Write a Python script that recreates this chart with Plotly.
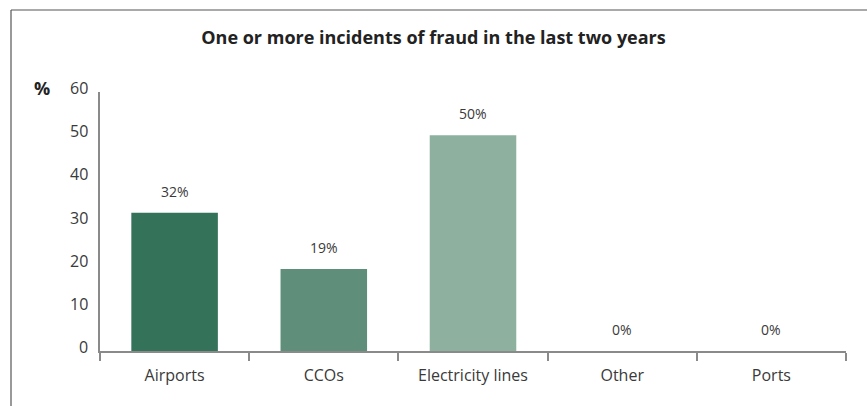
import plotly.graph_objects as go

# Share of respondents reporting one or more incidents of fraud
categories = ["Airports", "CCOs", "Electricity lines", "Other", "Ports"]
values = [32, 19, 50, 0, 0]
bar_colors = ["#34725a", "#5f8f7a", "#8eb09f", "#8eb09f", "#8eb09f"]
y_ticks = [0, 10, 20, 30, 40, 50, 60]

FONT = "Open Sans, Lato, sans-serif"
TEXT = "#3a3a3a"
AXIS = "#8a8a8a"

fig = go.Figure(
    go.Bar(
        x=categories,
        y=values,
        marker=dict(color=bar_colors, line=dict(width=0)),
        width=0.58,
        hoverinfo="skip",
    )
)

# value labels above each bar
for cat, val in zip(categories, values):
    fig.add_annotation(
        x=cat, y=val, text=f"{val}%", showarrow=False,
        yanchor="bottom", yshift=10,
        font=dict(family=FONT, size=14, color=TEXT),
    )

# y tick labels, set slightly above their gridline positions
for t in y_ticks:
    fig.add_annotation(
        x=0, xref="paper", y=t, yref="y", text=str(t), showarrow=False,
        xanchor="right", xshift=-10, yshift=4,
        font=dict(family=FONT, size=16, color=TEXT),
    )

# unit marker
fig.add_annotation(
    x=-0.078, xref="paper", y=60, yref="y", text="<b>%</b>", showarrow=False,
    xanchor="center", yshift=4,
    font=dict(family=FONT, size=18, color="#222222"),
)

# outer frame (left and top edges)
fig.add_shape(type="line", xref="paper", yref="paper",
              x0=-0.1193, x1=-0.1193, y0=-0.3, y1=1.3166,
              line=dict(color="#555555", width=1.2))
fig.add_shape(type="line", xref="paper", yref="paper",
              x0=-0.1193, x1=1.1, y0=1.3166, y1=1.3166,
              line=dict(color="#555555", width=1.2))

fig.update_layout(
    width=867, height=406,
    margin=dict(l=100, r=21, t=92, b=55),
    paper_bgcolor="white", plot_bgcolor="white",
    showlegend=False,
    title=dict(
        text="<b>One or more incidents of fraud in the last two years</b>",
        x=0.5, xanchor="center", xref="container",
        y=1 - 38 / 406, yanchor="middle",
        font=dict(family=FONT, size=18, color="#222222"),
    ),
    xaxis=dict(
        showline=True, linecolor=AXIS, linewidth=1.5,
        ticks="outside", tickson="boundaries", ticklen=8,
        tickcolor=AXIS, tickwidth=1.5, ticklabelstandoff=9,
        tickfont=dict(family=FONT, size=16, color=TEXT),
        showgrid=False, zeroline=False,
    ),
    yaxis=dict(
        range=[0, 60], tickvals=y_ticks, showticklabels=False,
        showline=True, linecolor=AXIS, linewidth=1.5,
        ticks="", showgrid=False, zeroline=False,
    ),
)

fig.write_html("out.html")
